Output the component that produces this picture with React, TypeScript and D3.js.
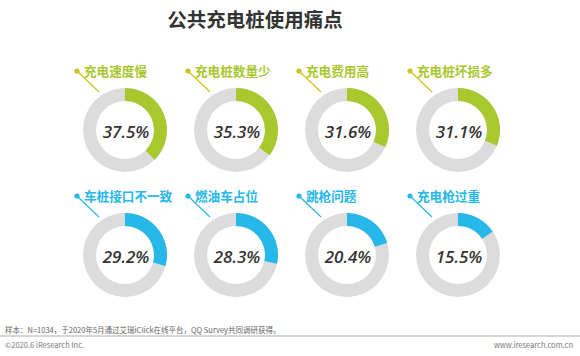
import React from "react";
import * as d3 from "d3";

const categories = ["充电速度慢", "充电桩数量少", "充电费用高", "充电桩坏损多", "车桩接口不一致", "燃油车占位", "跳枪问题", "充电枪过重"];
const values = [37.5, 35.3, 31.6, 31.1, 29.2, 28.3, 20.4, 15.5];
const rowColors = ["#a8c82e", "#27b8ea"];
const dotColors = ["#c9c41e", "#27b8ea"];

const W = 580, H = 356;
const colX = d3.scalePoint<number>().domain([0, 1, 2, 3]).range([125, 458]);
const rowY = d3.scalePoint<number>().domain([0, 1]).range([130, 255]);
const angle = d3.scaleLinear().domain([0, 100]).range([0, 2 * Math.PI]);
const rOuter = 42, rInner = 29;
const arcGen = d3.arc<any>().innerRadius(rInner).outerRadius(rOuter);

export default function App() {
  return (
    <svg width={W} height={H} style={{ position: "absolute", left: 0, top: 0, background: "#fff" }}
      fontFamily="'Noto Sans CJK SC', 'Noto Sans', sans-serif">
      <rect width={W} height={H} fill="#fff" />
      <text x={255} y={27} textAnchor="middle" fontSize={19.5} fontWeight="bold" fill="#333">公共充电桩使用痛点</text>
      {categories.map((c, i) => {
        const row = Math.floor(i / 4), col = i % 4;
        const cx = colX(col)!, cy = rowY(row)!;
        const color = rowColors[row];
        return (
          <g key={c} transform={`translate(${cx},${cy})`}>
            <path d={arcGen({ startAngle: 0, endAngle: 2 * Math.PI }) || ""} fill="#dcdcdc" />
            <path d={arcGen({ startAngle: 0, endAngle: angle(values[i]) }) || ""} fill={color} />
            <line x1={-48} y1={-59} x2={-26} y2={-38} stroke={dotColors[row]} strokeWidth={1.2} />
            <circle cx={-48} cy={-59} r={2.6} fill={dotColors[row]} />
            <text x={-41} y={-54} fontSize={12.6} fontWeight="bold" fill={color}>{c}</text>
            <text x={1} y={8} textAnchor="middle" fontSize={17} fontStyle="italic" fontWeight={600} fill="#333"
              fontFamily="'Open Sans', 'Liberation Sans', sans-serif">{values[i].toFixed(1)}%</text>
          </g>
        );
      })}
      <text x={5} y={333} fontSize={7.5} fill="#666">样本：N=1034，于2020年5月通过艾瑞iClick在线平台，QQ Survey共同调研获得。</text>
      <line x1={0} x2={580} y1={336} y2={336} stroke="#999" strokeWidth={0.8} />
      <text x={5} y={348} fontSize={7.5} fill="#777">©2020.6 iResearch Inc.</text>
      <text x={573} y={348} fontSize={7.5} fill="#777" textAnchor="end">www.iresearch.com.cn</text>
    </svg>
  );
}
